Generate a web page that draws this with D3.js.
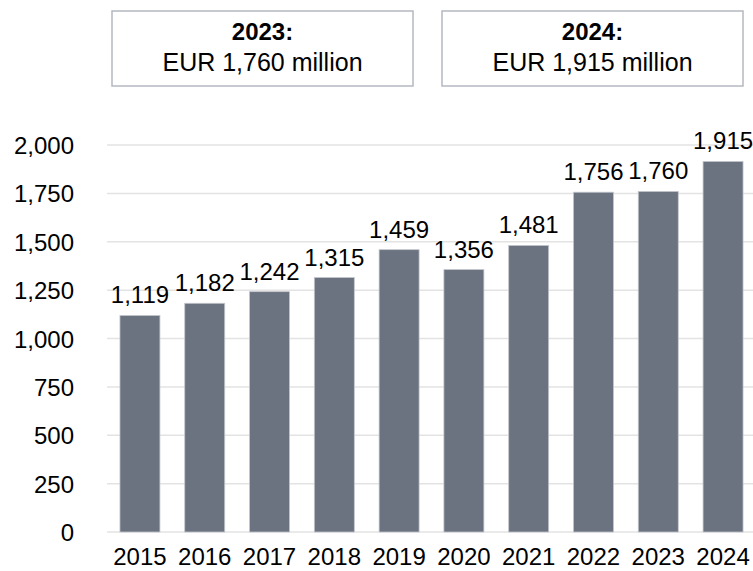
<!DOCTYPE html>
<html>
<head>
<meta charset="utf-8">
<script src="https://cdn.jsdelivr.net/npm/d3@7"></script>
<style>
    body { margin: 0; background: #fff; }
    svg { display: block; font-family: "Liberation Sans", Arial, sans-serif; }
</style>
</head>
<body>
<div id="chart"></div>
<script>
const years = ["2015", "2016", "2017", "2018", "2019", "2020", "2021", "2022", "2023", "2024"];
const revenue = [1119, 1182, 1242, 1315, 1459, 1356, 1481, 1756, 1760, 1915];
const yTicks = [0, 250, 500, 750, 1000, 1250, 1500, 1750, 2000];
const boxTitles = ["2023:", "2024:"];
const boxTexts = ["EUR 1,760 million", "EUR 1,915 million"];

const width = 753, height = 571;
const fmt = d3.format(",");

const svg = d3.select("#chart").append("svg")
    .attr("width", width)
    .attr("height", height);

const x = d3.scaleBand()
    .domain(years)
    .range([107, 756])
    .paddingInner(0.383)
    .paddingOuter(0.2);

const y = d3.scaleLinear()
    .domain([0, 2000])
    .range([532, 145]);

// gridlines
svg.append("g")
    .selectAll("line")
    .data(yTicks)
    .enter()
    .append("line")
    .attr("x1", 107)
    .attr("x2", width)
    .attr("y1", d => y(d))
    .attr("y2", d => y(d))
    .attr("stroke", "#e3e3e3")
    .attr("stroke-width", 1.5);

// y tick labels
svg.append("g")
    .selectAll("text")
    .data(yTicks)
    .enter()
    .append("text")
    .attr("x", 74)
    .attr("y", d => y(d) + 9)
    .attr("text-anchor", "end")
    .attr("font-size", 24)
    .attr("fill", "#000")
    .text(d => fmt(d));

// bars
svg.append("g")
    .selectAll("rect")
    .data(revenue)
    .enter()
    .append("rect")
    .attr("x", (d, i) => x(years[i]))
    .attr("width", x.bandwidth())
    .attr("y", d => y(d))
    .attr("height", d => y(0) - y(d))
    .attr("fill", "#6b7280")
    .attr("stroke", "#c3c6cc")
    .attr("stroke-width", 0.8);

// bar value labels
svg.append("g")
    .selectAll("text")
    .data(revenue)
    .enter()
    .append("text")
    .attr("x", (d, i) => x(years[i]) + x.bandwidth() / 2)
    .attr("y", d => y(d) - 12)
    .attr("text-anchor", "middle")
    .attr("font-size", 24)
    .attr("fill", "#000")
    .text(d => fmt(d));

// x labels
svg.append("g")
    .selectAll("text")
    .data(years)
    .enter()
    .append("text")
    .attr("x", d => x(d) + x.bandwidth() / 2)
    .attr("y", 565)
    .attr("text-anchor", "middle")
    .attr("font-size", 24)
    .attr("fill", "#000")
    .text(d => d);

// summary boxes
const boxX = [112, 442];
const boxes = svg.append("g")
    .selectAll("g")
    .data(boxTitles)
    .enter()
    .append("g")
    .attr("transform", (d, i) => `translate(${boxX[i]},11)`);

boxes.append("rect")
    .attr("width", 301)
    .attr("height", 75)
    .attr("fill", "#fff")
    .attr("stroke", "#b4b8c0")
    .attr("stroke-width", 1.5);

boxes.append("text")
    .attr("x", 150.5)
    .attr("y", 28.5)
    .attr("text-anchor", "middle")
    .attr("font-size", 24)
    .attr("font-weight", "bold")
    .attr("fill", "#000")
    .text(d => d);

boxes.append("text")
    .attr("x", 150.5)
    .attr("y", 60)
    .attr("text-anchor", "middle")
    .attr("font-size", 25)
    .attr("fill", "#000")
    .text((d, i) => boxTexts[i]);
</script>
</body>
</html>
